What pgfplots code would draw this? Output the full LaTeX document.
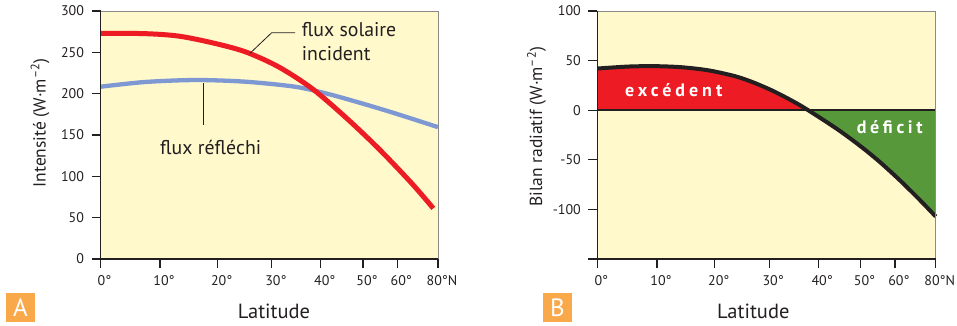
\documentclass[border=0pt]{standalone}
\usepackage{fontspec}
\setmainfont{PT Sans}
\usepackage{pgfplots}
\pgfplotsset{compat=1.18}
\definecolor{bgy}{HTML}{FFF9CC}
\definecolor{dark}{HTML}{231F20}
\definecolor{redc}{HTML}{ED1C24}
\definecolor{bluec}{HTML}{7D98D2}
\definecolor{greenc}{HTML}{57993A}
\definecolor{orangec}{HTML}{F9A84A}
\definecolor{frameg}{HTML}{8A8A8A}
\pgfplotsset{
  panel/.style={
    scale only axis, height=248pt, clip=false,
    axis line style={draw=none},
    axis background/.style={fill=bgy},
    tick align=outside, xtick pos=bottom, ytick pos=left,
    major tick length=9pt,
    tick style={draw=dark, line width=1.2pt},
    tick label style={font=\fontsize{14}{16}\selectfont, text=dark},
    /pgf/number format/assume math mode=true,
    xmin=0, xmax=0.98481,
    xtick={0,0.17365,0.34202,0.5,0.64279,0.76604,0.86603,0.98481},
    xticklabels={0°,10°,20°,30°,40°,50°,60°,80°N},
    xticklabel style={xshift=4pt, yshift=-4pt},
    yticklabel style={xshift=-4pt},
  }
}
\begin{document}
\begin{tikzpicture}[x=1pt,y=1pt]
\useasboundingbox (0,0) rectangle (957,325);
% ---------------- Panel A ----------------
\begin{axis}[panel, at={(100.5pt,66pt)}, anchor=south west, width=337.5pt,
  ymin=0, ymax=300, ytick={0,50,100,150,200,250,300}]
\addplot[bluec, line width=4.3pt, smooth] coordinates {
(0,208.4) (0.1298,214.1) (0.2757,216.5) (0.4216,214.5) (0.5675,208.4)
(0.6647,199.6) (0.7622,188.3) (0.8593,176.2) (0.98481,159.5)};
\addplot[redc, line width=5pt, smooth] coordinates {
(0,273) (0.1298,272.6) (0.227,269.7) (0.3245,261.7) (0.4216,250.8)
(0.5188,232.6) (0.6163,206.5) (0.7134,172.1) (0.8106,133.9)
(0.908,91.6) (0.9711,61.3)};
\draw[frameg, line width=0.9pt] (rel axis cs:0,1) -- (rel axis cs:1,1) -- (rel axis cs:1,0);
\draw[dark, line width=1.6pt] (rel axis cs:0,1) -- (rel axis cs:0,0) -- (rel axis cs:1,0);
\end{axis}
% ---------------- Panel B ----------------
\begin{axis}[panel, at={(597.3pt,66pt)}, anchor=south west, width=338.4pt,
  ymin=-150, ymax=100, ytick={-150,-100,-50,0,50,100},
  yticklabels={,-100,-50,0,50,100}]
\addplot[fill=redc, draw=none, smooth] coordinates {
(0,42) (0.09,44) (0.168,44.4) (0.2456,43.3) (0.3231,40.2)
(0.4007,34.3) (0.454,28) (0.5122,19.3) (0.57,8.9) (0.6136,0)} \closedcycle;
\addplot[fill=greenc, draw=none, smooth] coordinates {
(0.6136,0) (0.70,-19.5) (0.77,-37.4) (0.8227,-52.4) (0.88,-70.5)
(0.9391,-90.7) (0.98481,-107.2)} \closedcycle;
\addplot[dark, line width=2pt] coordinates {(0,0) (0.98481,0)};
\addplot[dark, line width=4pt, smooth] coordinates {
(0,42) (0.09,44) (0.168,44.4) (0.2456,43.3) (0.3231,40.2)
(0.4007,34.3) (0.454,28) (0.5122,19.3) (0.57,8.9) (0.6136,0)
(0.70,-19.5) (0.77,-37.4) (0.8227,-52.4) (0.88,-70.5) (0.9391,-90.7) (0.98481,-107.2)};
\draw[frameg, line width=0.9pt] (rel axis cs:0,1) -- (rel axis cs:1,1) -- (rel axis cs:1,0);
\draw[dark, line width=1.6pt] (rel axis cs:0,1) -- (rel axis cs:0,0) -- (rel axis cs:1,0);
\end{axis}
% ---------------- Texts ----------------
\node[anchor=base west, text=dark, font=\fontsize{19.8}{19.8}\selectfont, inner sep=0] at (301.7,288.3) {flux solaire};
\node[anchor=base west, text=dark, font=\fontsize{19.8}{19.8}\selectfont, inner sep=0] at (301.7,264.3) {incident};
\draw[dark, line width=0.8pt] (295,292.3) -- (271.7,292.3) -- (250,271.7);
\node[anchor=base west, text=dark, font=\fontsize{19.8}{19.8}\selectfont, inner sep=0] at (160,170.7) {flux réfléchi};
\draw[dark, line width=0.8pt] (203.3,241.7) -- (203.3,200);
\node[anchor=base west, text=white, font=\fontsize{18}{18}\selectfont\bfseries\addfontfeatures{LetterSpace=22}, inner sep=0] at (625,228.3) {excédent};
\node[anchor=base west, text=white, font=\fontsize{18}{18}\selectfont\bfseries\addfontfeatures{LetterSpace=20}, inner sep=0] at (856.7,191.7) {déficit};
\node[rotate=90, text=dark, font=\fontsize{17.5}{17.5}\selectfont] at (40,202) {Intensité (W·m\textsuperscript{–2})};
\node[rotate=90, text=dark, font=\fontsize{17.5}{17.5}\selectfont] at (536.5,198.3) {Bilan radiatif (W·m\textsuperscript{–2})};
\node[anchor=base, text=dark, font=\fontsize{20.5}{20.5}\selectfont, inner sep=0] at (274,7) {Latitude};
\node[anchor=base, text=dark, font=\fontsize{20.5}{20.5}\selectfont, inner sep=0] at (753.3,7) {Latitude};
\node[fill=orangec, text=white, minimum size=29pt, inner sep=0, font=\fontsize{25}{25}\selectfont] at (20.5,17.5) {A};
\node[fill=orangec, text=white, minimum size=29pt, inner sep=0, font=\fontsize{25}{25}\selectfont] at (557.5,17.5) {B};
\end{tikzpicture}
\end{document}
